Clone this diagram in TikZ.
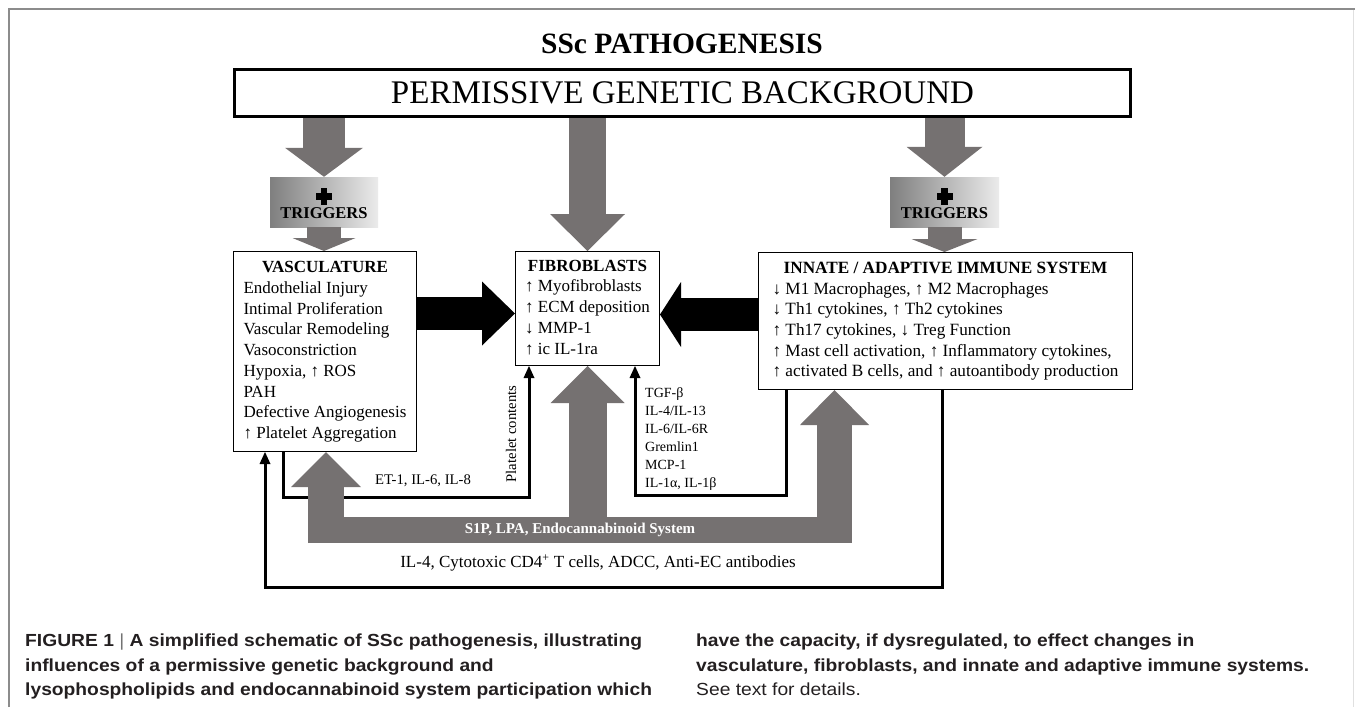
\documentclass[tikz,border=0pt]{standalone}
\usepackage{fontspec}
\setmainfont{Liberation Serif}
\setsansfont{Liberation Sans}
\newfontfamily\capfont[FakeStretch=1.1]{Liberation Sans}
\usetikzlibrary{arrows.meta}

\definecolor{arrowgray}{RGB}{117,113,113}
\definecolor{captiontext}{RGB}{35,31,32}

\tikzset{
  box/.style={draw, line width=1pt, inner sep=0pt, anchor=north west},
  trigger/.style={left color=black!50, right color=black!8, minimum width=#1, minimum height=50pt, inner sep=0pt},
  fatarrow/.style args={#1/#2/#3}{line width=#1, -{Triangle[width=#2, length=#3, line width=0pt]}},
  link/.style={line width=3pt, -{Triangle[width=11pt, length=12pt, line width=0pt]}},
  bodyfont/.style={font=\fontsize{17}{20.7}\selectfont},
  smallfont/.style={font=\fontsize{14.7}{18}\selectfont},
  caption/.style={anchor=north west, align=left, inner sep=0pt, text=captiontext,
                  font=\capfont\bfseries\fontsize{17.5}{24.5}\selectfont}
}

\begin{document}
\begin{tikzpicture}[x=1pt, y=-1pt]
  \useasboundingbox (0,0) rectangle (1355,707);
  % frame of the figure
  \draw[black!45, line width=1.5pt] (9,707) -- (9,9) -- (1355,9);
  \draw[black!12, line width=1pt] (1353.5,9.75) -- (1353.5,707);

  \node[font=\bfseries\fontsize{29.5}{31}\selectfont] (title) at (682,44) {SSc PATHOGENESIS};
  \node[draw, line width=3pt, minimum width=896pt, minimum height=47pt,
        font=\fontsize{33}{36}\selectfont] (gen) at (682.5,93) {PERMISSIVE GENETIC BACKGROUND};

  % triggers
  \node[trigger=108pt] (trigL) at (324,202) {};
  \node[trigger=109pt] (trigR) at (944.5,202) {};
  \foreach \t in {trigL,trigR}{
    \fill (\t.center) ++(-3.3,-14) rectangle ++(6.6,16.6);
    \fill (\t.center) ++(-8,-9.5) rectangle ++(16,7.2);
    \node[font=\bfseries\fontsize{16.5}{18}\selectfont, anchor=base] at ([yshift=-16pt]\t.center) {TRIGGERS};
  }

  % the three boxes
  \node[box, minimum width=183pt, minimum height=200pt, bodyfont] (vasc) at (233,251)
    {\begin{tabular}{@{}l@{}}
     \multicolumn{1}{@{}c@{}}{\textbf{VASCULATURE}}\\
     Endothelial Injury\\
     Intimal Proliferation\\
     Vascular Remodeling\\
     Vasoconstriction\\
     Hypoxia, ↑ ROS\\
     PAH\\
     Defective Angiogenesis\\
     ↑ Platelet Aggregation
     \end{tabular}};
  \node[box, minimum width=144pt, minimum height=114pt, bodyfont] (fibro) at (515,251)
    {\begin{tabular}{@{}l@{}}
     \multicolumn{1}{@{}c@{}}{\textbf{FIBROBLASTS}}\\
     ↑ Myofibroblasts\\
     ↑ ECM deposition\\
     ↓ MMP-1\\
     ↑ ic IL-1ra
     \end{tabular}};
  \node[box, minimum width=374pt, minimum height=137pt, font=\fontsize{17.2}{20.7}\selectfont] (immune) at (758,252)
    {\begin{tabular}{@{}l@{}}
     \multicolumn{1}{@{}c@{}}{\textbf{INNATE / ADAPTIVE IMMUNE SYSTEM}}\\
     ↓ M1 Macrophages, ↑ M2 Macrophages\\
     ↓ Th1 cytokines, ↑ Th2 cytokines\\
     ↑ Th17 cytokines, ↓ Treg Function\\
     ↑ Mast cell activation, ↑ Inflammatory cytokines,\\
     ↑ activated B cells, and ↑ autoantibody production
     \end{tabular}};

  % gray arrows from the genetic background
  \draw[arrowgray, fatarrow=42pt/78pt/29pt] (gen.south -| trigL) -- (trigL.north);
  \draw[arrowgray, fatarrow=37pt/75pt/37pt] (gen.south -| fibro) -- (fibro.north);
  \draw[arrowgray, fatarrow=40pt/76pt/30pt] (gen.south -| trigR) -- (trigR.north);
  \draw[arrowgray, fatarrow=34pt/63pt/13pt] (trigL) -- (vasc.north -| trigL);
  \draw[arrowgray, fatarrow=34pt/66pt/13pt] (trigR) -- (immune.north -| trigR);

  % black arrows into the fibroblasts
  \draw[fatarrow=33pt/64pt/33pt] (vasc.east |- 0,313.5) -- (fibro.west |- 0,313.5);
  \draw[fatarrow=33pt/65pt/21pt] (immune.west |- 0,314.5) -- (fibro.east |- 0,314.5);

  % thin connectors
  \draw[link] (vasc.south -| 283,0) |- (529,497) -- (fibro.south -| 529,0);
  \draw[link] (immune.south -| 786,0) |- (635,495) -- (fibro.south -| 635,0);
  \draw[link] (immune.south -| 942,0) |- (265,587) -- (vasc.south -| 265,0);

  % S1P / LPA / endocannabinoid arrow
  \coordinate (s1p) at (580,530);
  \draw[arrowgray, line width=26pt] (308,530) -- (852,530);
  \draw[arrowgray, fatarrow=36pt/70pt/35pt] (326,543) -- (vasc.south -| 326,0);
  \draw[arrowgray, fatarrow=38pt/74pt/37pt] (s1p -| fibro) -- (fibro.south);
  \draw[arrowgray, fatarrow=35pt/69pt/35pt] (834.5,543) -- (immune.south -| 834.5,0);
  \node[white, font=\bfseries\fontsize{15}{16}\selectfont] at (s1p) {S1P, LPA, Endocannabinoid System};

  % labels of the connectors
  \node[smallfont] at (423,481) {ET-1, IL-6, IL-8};
  \node[smallfont, rotate=90] at (511,434) {Platelet contents};
  \node[anchor=north west, align=left, inner sep=0pt, font=\fontsize{14}{18}\selectfont] at (645,387)
    {TGF-β\\IL-4/IL-13\\IL-6/IL-6R\\Gremlin1\\MCP-1\\IL-1α, IL-1β};
  \node[font=\fontsize{17}{18}\selectfont] at (598,563) {IL-4, Cytotoxic CD4\textsuperscript{+} T cells, ADCC, Anti-EC antibodies};

  % caption
  \node[caption] (capL) at (25,634)
    {FIGURE 1 {\mdseries\color{black!55}|} A simplified schematic of SSc pathogenesis, illustrating\\
     influences of a permissive genetic background and\\
     lysophospholipids and endocannabinoid system participation which};
  \node[caption] (capR) at (696,634)
    {have the capacity, if dysregulated, to effect changes in\\
     vasculature, fibroblasts, and innate and adaptive immune systems.\\
     {\mdseries See text for details.}};
\end{tikzpicture}
\end{document}
